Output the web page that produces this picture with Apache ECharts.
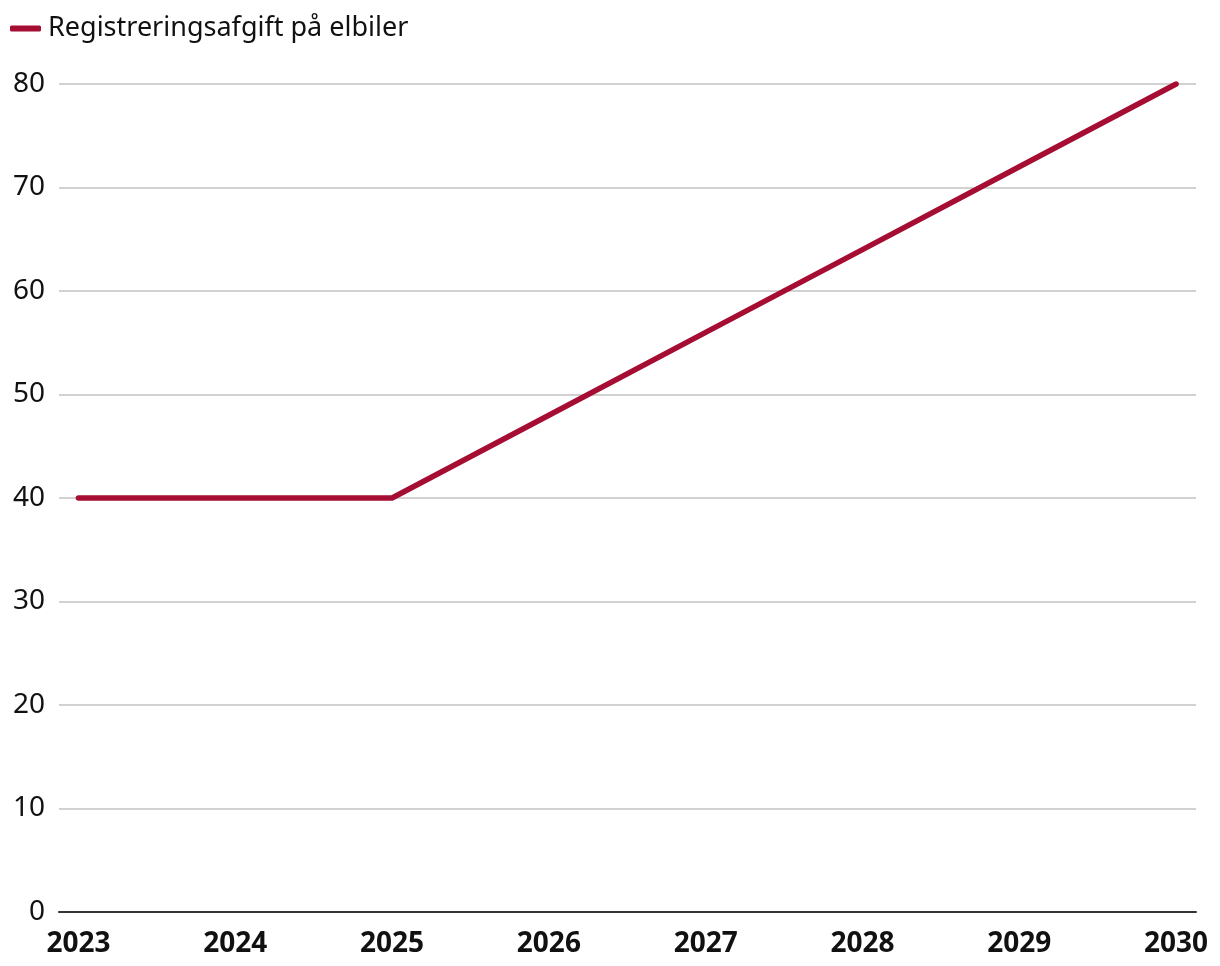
<!DOCTYPE html>
<html>
<head>
<meta charset="utf-8">
<script src="https://cdn.jsdelivr.net/npm/echarts@6/dist/echarts.min.js"></script>
<style>
html,body{margin:0;padding:0;background:#fff;}
#chart{width:1220px;height:966px;}
</style>
</head>
<body>
<div id="chart"></div>
<script>
const years = [2023, 2024, 2025, 2026, 2027, 2028, 2029, 2030];
const values = [40, 40, 40, 48, 56, 64, 72, 80];
const seriesName = 'Registreringsafgift på elbiler';
const yTicks = [0, 10, 20, 30, 40, 50, 60, 70, 80];

const chart = echarts.init(document.getElementById('chart'));
const font = '"Noto Sans", "Open Sans", sans-serif';
chart.setOption({
  animation: false,
  backgroundColor: '#fff',
  textStyle: { fontFamily: font },
  legend: {
    left: 5, top: 10,
    icon: 'roundRect',
    itemWidth: 31, itemHeight: 6,
    textStyle: { fontSize: 27, color: '#111', fontFamily: font, padding: [0, 0, 0, 2] },
    data: [seriesName]
  },
  grid: { left: 59, right: 24, top: 84, bottom: 54, containLabel: false },
  xAxis: {
    type: 'value',
    min: 2022.876, max: 2030.127,
    splitLine: { show: false },
    axisTick: { show: false },
    axisLine: { show: true, lineStyle: { color: '#333', width: 2 } },
    axisLabel: {
      customValues: years,
      formatter: v => String(v),
      fontSize: 28, fontWeight: 'bold', color: '#111', margin: 18, fontFamily: font
    }
  },
  yAxis: {
    type: 'value',
    min: 0, max: 80, interval: 10,
    axisLine: { show: false },
    axisTick: { show: false },
    splitLine: { lineStyle: { color: '#c2c2c2', width: 1.5 } },
    axisLabel: { fontSize: 28, color: '#111', margin: 14, fontFamily: font,
      customValues: yTicks }
  },
  series: [{
    name: seriesName,
    type: 'line',
    data: years.map((y, i) => [y, values[i]]),
    showSymbol: false,
    symbol: 'none',
    lineStyle: { color: '#a50d33', width: 5.5, cap: 'round', join: 'round' },
    itemStyle: { color: '#a50d33' }
  }]
});
</script>
</body>
</html>
